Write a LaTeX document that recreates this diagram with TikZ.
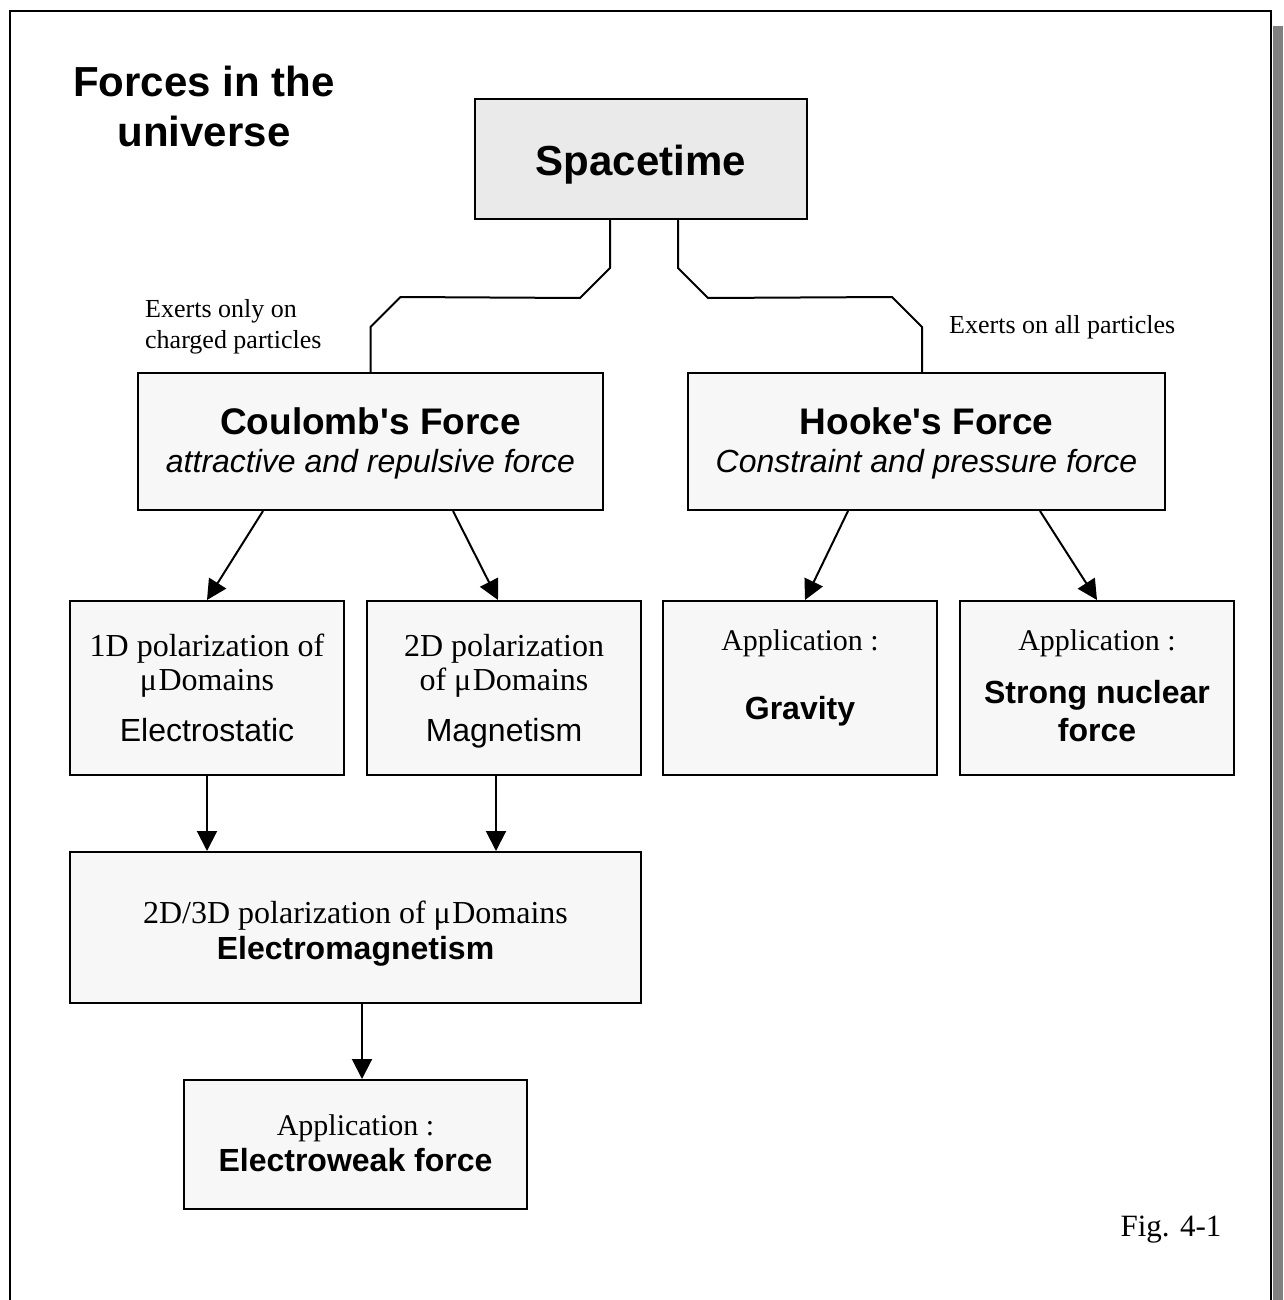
\documentclass[tikz,border=0pt]{standalone}
\usepackage{fontspec}
\setmainfont{Liberation Serif}
\newfontfamily\arialf{Liberation Sans}
\usetikzlibrary{arrows.meta}
\definecolor{boxfill}{HTML}{F7F7F7}
\definecolor{topfill}{HTML}{EAEAEA}
\definecolor{edgegray}{HTML}{808080}
\newcommand\fsz[1]{\fontsize{#1}{#1}\selectfont}
\newcommand\mudom{μ\kern1.5pt Domains}

\begin{document}
\begin{tikzpicture}[x=1pt,y=-1pt,
  box/.style={draw=black,line width=2pt,fill=boxfill,rectangle,inner sep=0pt},
  txt/.style={inner sep=0pt,anchor=base},
  ltxt/.style={inner sep=0pt,anchor=base west},
  link/.style={line width=2pt,line join=miter},
  arr/.style={line width=2pt,-{Triangle[length=20pt,width=20pt]}},
  big/.style={font=\arialf\bfseries\fsz{42}},
  head/.style={font=\arialf\bfseries\fsz{37}},
  sub/.style={font=\arialf\itshape\fsz{32}},
  plain/.style={font=\arialf\fsz{32}},
  strong/.style={font=\arialf\bfseries\fsz{32}},
  serif/.style={font=\fsz{32}},
  app/.style={font=\fsz{30}},
  note/.style={font=\fsz{26}},
]
\useasboundingbox (0,0) rectangle (1283,1300);

% page frame with its shadow strip on the right
\fill[edgegray] (1272.5,26) rectangle (1283,1300);
\draw[line width=2pt] (10,1300) -- (10,11) -- (1271,11) -- (1271,1300);

% title
\node[txt,big] (title1) at (204,97) {Forces in the};
\node[txt,big] (title2) at (204,147) {universe};

% boxes
\node[box,fill=topfill,minimum width=332pt,minimum height=120pt] (space) at (641,159) {};
\node[box,minimum width=465pt,minimum height=137pt] (coul) at (370.5,441.5) {};
\node[box,minimum width=477pt,minimum height=137pt] (hooke) at (926.5,441.5) {};
\node[box,minimum width=274pt,minimum height=174pt] (one) at (207,688) {};
\node[box,minimum width=274pt,minimum height=174pt] (two) at (504,688) {};
\node[box,minimum width=274pt,minimum height=174pt] (grav) at (800,688) {};
\node[box,minimum width=274pt,minimum height=174pt] (strongbox) at (1097,688) {};
\node[box,minimum width=571pt,minimum height=151pt] (em) at (355.5,927.5) {};
\node[box,minimum width=343pt,minimum height=129pt] (ew) at (355.5,1144.5) {};

% box texts
\node[txt,big] (spacet) at (641,176) {Spacetime};

\node[txt,head] (coult) at (370.5,434) {Coulomb's Force};
\node[txt,sub] (couls) at (370.5,472) {attractive and repulsive force};

\node[txt,head] (hooket) at (926.5,434) {Hooke's Force};
\node[txt,sub] (hookes) at (926.5,472) {Constraint and pressure force};

\node[txt,serif] (onea) at (207,656) {1D polarization of};
\node[txt,serif] (oneb) at (207,690) {\mudom};
\node[txt,plain] (onec) at (207,741) {Electrostatic};

\node[txt,serif] (twoa) at (504,656) {2D polarization};
\node[txt,serif] (twob) at (504,690) {of \mudom};
\node[txt,plain] (twoc) at (504,741) {Magnetism};

\node[txt,app] (grava) at (800,650) {Application :};
\node[txt,strong] (gravb) at (800,719) {Gravity};

\node[txt,app] (stra) at (1097,650) {Application :};
\node[txt,strong] (strb) at (1097,703) {Strong nuclear};
\node[txt,strong] (strc) at (1097,741) {force};

\node[txt,serif] (ema) at (355.5,923) {2D/3D polarization of \mudom};
\node[txt,strong] (emb) at (355.5,959) {Electromagnetism};

\node[txt,app] (ewa) at (355.5,1135) {Application :};
\node[txt,strong] (ewb) at (355.5,1171) {Electroweak force};

% branch notes
\node[ltxt,note] (notea) at (145,317) {Exerts only on};
\node[ltxt,note] (noteb) at (145,348) {charged particles};
\node[ltxt,note] (notec) at (949,333) {Exerts on all particles};

\node[txt,font=\fsz{31}] (fig) at (1171,1236) {Fig. 4-1};

% branches out of Spacetime
\draw[link] ([xshift=-31pt]space.south) -- ++(0,48) -- ++(-30,30)
  -- (400.5,297) -- (370.5,327) -- (coul.north);
\draw[link] ([xshift=37pt]space.south) -- ++(0,48) -- ++(30,30)
  -- (892,297) -- (922,327) -- ([xshift=-4.5pt]hooke.north);

% arrows
\draw[arr] ([xshift=-107.5pt]coul.south) -- (one.north);
\draw[arr] ([xshift=82.5pt]coul.south) -- ([xshift=-6pt]two.north);
\draw[arr] ([xshift=-78.5pt]hooke.south) -- ([xshift=5pt]grav.north);
\draw[arr] ([xshift=113.5pt]hooke.south) -- (strongbox.north);
\draw[arr] (one.south) -- (one.south |- em.north);
\draw[arr] ([xshift=-8pt]two.south) -- ([xshift=-8pt]two.south |- em.north);
\draw[arr] ([xshift=6.5pt]em.south) -- ([xshift=6.5pt]em.south |- ew.north);
\end{tikzpicture}
\end{document}
